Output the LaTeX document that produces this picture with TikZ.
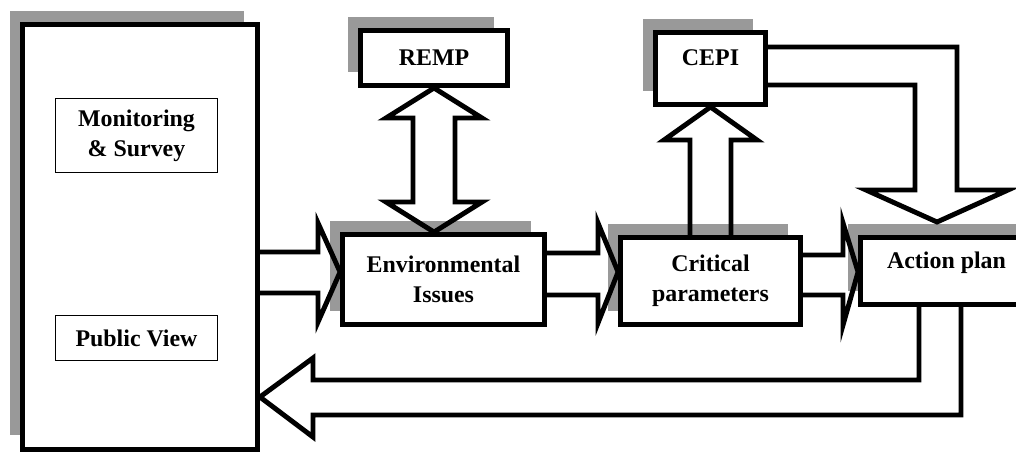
\documentclass[tikz,border=0pt]{standalone}
\usepackage{fontspec}
\setmainfont{Liberation Serif}
\usetikzlibrary{shadows}
\begin{document}
\begin{tikzpicture}[x=0.02cm,y=-0.02cm,
    every node/.style={font=\bfseries\fontsize{13.6}{17}\selectfont, align=center},
    blk/.style={draw, line width=2.8pt, fill=white,
      drop shadow={shadow xshift=-0.26cm, shadow yshift=0.28cm, fill=black!40, opacity=1}},
    sub/.style={draw, line width=0.8pt, fill=white},
    up/.style={text height=9pt, text depth=12.4pt},
    fat/.style={line width=2.8pt, line join=miter}]
            \useasboundingbox (0,0) rectangle (1016,454);
            \clip (0,0) rectangle (1016,454);
            \node[blk, minimum width=4.70cm, minimum height=8.50cm] (P) at (140,237) {};
            \node[sub, minimum width=3.23cm, minimum height=1.47cm] (M) at (136.5,135.5) {Monitoring\\\& Survey};
            \node[sub, minimum width=3.23cm, minimum height=0.89cm] (V) at (136.5,338) {Public View};
            \node[blk, minimum width=2.94cm, minimum height=1.10cm] (R) at (434,58) {REMP};
            \node[blk, up, minimum width=2.20cm, minimum height=1.44cm] (C) at (710.5,68.5) {CEPI};
            \node[blk, minimum width=4.04cm, minimum height=1.80cm] (E) at (443.5,279.5) {Environmental\\Issues};
            \node[blk, minimum width=3.60cm, minimum height=1.74cm] (K) at (710.5,281) {Critical\\parameters};
            \node[blk, up, minimum width=3.44cm, minimum height=1.34cm] (A) at (946.5,271) {Action plan};
            \draw [fat] (P.east |- 0,252) -- (318,252) -- (318,223) -- (E.west |- 0,272) -- (318,322) -- (318,293) -- (P.east |- 0,293);
            \draw [fat] (E.east |- 0,253) -- (598,253) -- (598,223) -- (K.west |- 0,272) -- (598,323) -- (598,295) -- (E.east |- 0,295);
            \draw [fat] (K.east |- 0,255) -- (843,255) -- (843,223) -- (A.west |- 0,272) -- (843,325) -- (843,295) -- (K.east |- 0,295);
            \draw [fat] (R.south) -- (482,118) -- (455,118) -- (455,202) -- (482,202) -- (E.north -| R.south) -- (386,202) -- (413,202) -- (413,118) -- (386,118) -- cycle;
            \draw [fat] (K.north -| 690,0) -- (690,140) -- (664,140) -- (C.south) -- (757,140) -- (731,140) -- (K.north -| 731,0);
            \draw [fat] (C.east |- 0,47) -- (957,47) -- (957,190) -- (1008,190) -- (937,222) -- (866,190) -- (915,190) -- (915,85) -- (C.east |- 0,85);
            \draw [fat] (A.south -| 919,0) -- (919,380) -- (313,380) -- (313,358) -- (P.east |- 0,397) -- (313,437) -- (313,415) -- (961,415) -- (A.south -| 961,0);
        \end{tikzpicture}
\end{document}
